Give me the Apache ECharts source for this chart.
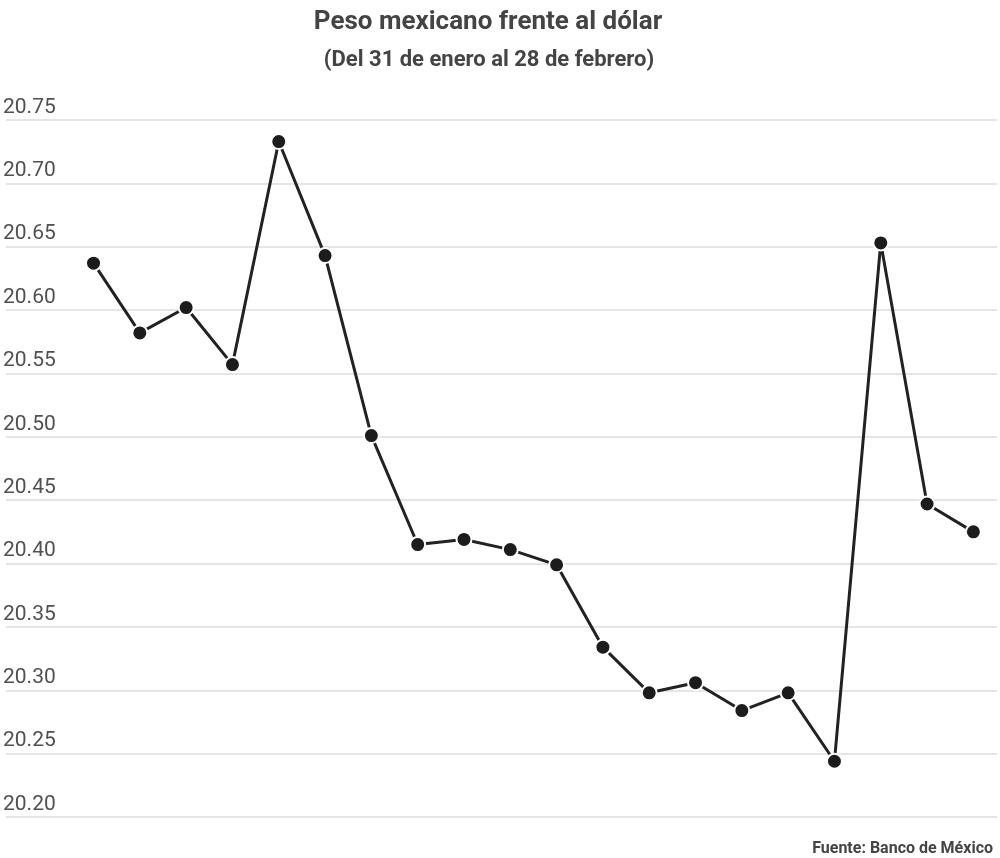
<!DOCTYPE html>
<html>
<head>
<meta charset="utf-8">
<script src="https://cdn.jsdelivr.net/npm/echarts@6/dist/echarts.min.js"></script>
<style>html,body{margin:0;padding:0;background:#fff}#c{width:1000px;height:858px}</style>
</head>
<body>
<div id="c"></div>
<script>
const categories = ['31 ene','1 feb','2 feb','3 feb','7 feb','8 feb','9 feb','10 feb','13 feb','14 feb','15 feb','16 feb','17 feb','20 feb','21 feb','22 feb','23 feb','24 feb','27 feb','28 feb'];
const values = [20.637,20.582,20.602,20.557,20.733,20.643,20.501,20.415,20.419,20.411,20.399,20.334,20.298,20.306,20.284,20.298,20.244,20.653,20.447,20.425];
const yTicks = ['20.20','20.25','20.30','20.35','20.40','20.45','20.50','20.55','20.60','20.65','20.70','20.75'];
const titleText = 'Peso mexicano frente al dólar';
const subtitleText = '(Del 31 de enero al 28 de febrero)';
const sourceText = 'Fuente: Banco de México';

const chart = echarts.init(document.getElementById('c'));
const font = 'Roboto, "Noto Sans", sans-serif';
chart.setOption({
  animation: false,
  backgroundColor: '#fff',
  title: [
    {text: titleText, left: 483, top: 4, textAlign: 'center',
     textStyle: {fontFamily: font, fontWeight: 'bold', fontSize: 26, color: '#444'}},
    {text: subtitleText, left: 484, top: 44, textAlign: 'center',
     textStyle: {fontFamily: font, fontWeight: 'bold', fontSize: 22, color: '#444'}},
    {text: sourceText, right: 2, top: 836,
     textStyle: {fontFamily: font, fontWeight: 'bold', fontSize: 16, color: '#444'}}
  ],
  grid: {left: 0, right: 3, top: 120, height: 697, containLabel: false},
  xAxis: {
    type: 'value', min: -1.89, max: 19.51,
    show: false, splitLine: {show: false}
  },
  yAxis: {
    type: 'value', min: 20.20, max: 20.75, interval: 0.05,
    axisLine: {show: false}, axisTick: {show: false},
    splitLine: {lineStyle: {color: '#dcdcdc', width: 1.5}},
    axisLabel: {
      inside: true, margin: -3, verticalAlign: 'bottom', padding: [0, 0, 2, 0],
      fontFamily: font, fontSize: 21, color: '#505050',
      formatter: function (v) {
        const s = v.toFixed(2);
        return yTicks.indexOf(s) >= 0 ? s : '';
      }
    }
  },
  series: [{
    type: 'line',
    data: values.map((v, i) => [i, v]),
    symbol: 'circle', symbolSize: 15,
    lineStyle: {color: '#222', width: 3},
    itemStyle: {color: '#1c1c1c', borderColor: '#fff', borderWidth: 2},
    z: 3
  }]
});
</script>
</body>
</html>
